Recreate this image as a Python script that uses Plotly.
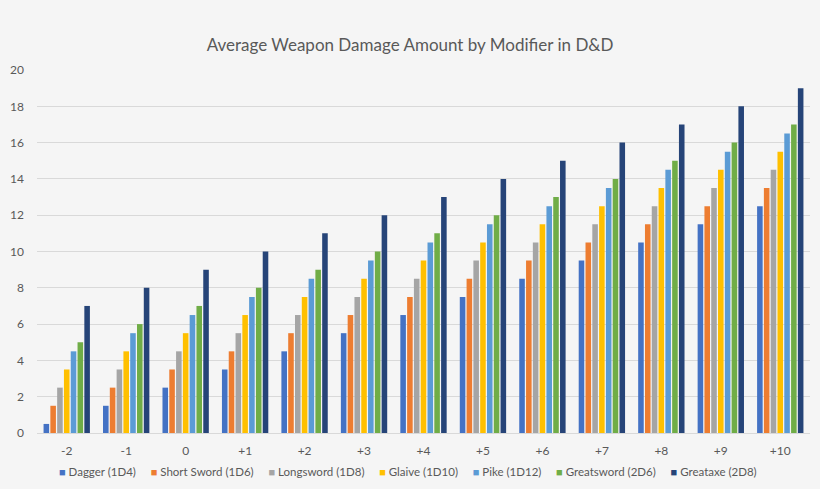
import plotly.graph_objects as go

# modifier categories on the x axis
modifiers = ['-2', '-1', '0', '+1', '+2', '+3', '+4', '+5', '+6', '+7', '+8', '+9', '+10']

# average damage per weapon
dagger = [0.5, 1.5, 2.5, 3.5, 4.5, 5.5, 6.5, 7.5, 8.5, 9.5, 10.5, 11.5, 12.5]
short_sword = [1.5, 2.5, 3.5, 4.5, 5.5, 6.5, 7.5, 8.5, 9.5, 10.5, 11.5, 12.5, 13.5]
longsword = [2.5, 3.5, 4.5, 5.5, 6.5, 7.5, 8.5, 9.5, 10.5, 11.5, 12.5, 13.5, 14.5]
glaive = [3.5, 4.5, 5.5, 6.5, 7.5, 8.5, 9.5, 10.5, 11.5, 12.5, 13.5, 14.5, 15.5]
pike = [4.5, 5.5, 6.5, 7.5, 8.5, 9.5, 10.5, 11.5, 12.5, 13.5, 14.5, 15.5, 16.5]
greatsword = [5, 6, 7, 8, 9, 10, 11, 12, 13, 14, 15, 16, 17]
greataxe = [7, 8, 9, 10, 11, 12, 13, 14, 15, 16, 17, 18, 19]

series = [
    ('Dagger (1D4)', dagger, '#4472C4'),
    ('Short Sword (1D6)', short_sword, '#ED7D31'),
    ('Longsword (1D8)', longsword, '#A5A5A5'),
    ('Glaive (1D10)', glaive, '#FFC000'),
    ('Pike (1D12)', pike, '#5B9BD5'),
    ('Greatsword (2D6)', greatsword, '#70AD47'),
    ('Greataxe (2D8)', greataxe, '#264478'),
]

fig = go.Figure()
for name, vals, col in series:
    fig.add_trace(go.Bar(x=modifiers, y=vals, name=name, marker_color=col,
                         marker_line_width=0))

# plotly's own legend is too roomy to fit in one row like excel's,
# so build a compact one as a single line of text
legend_bits = []
for name, vals, col in series:
    legend_bits.append('<span style="color:%s;font-size:11px">&#9632;</span>&nbsp;%s' % (col, name))
legend_text = '&nbsp;&nbsp;&nbsp;&nbsp;&nbsp;'.join(legend_bits)

fig.update_layout(
    width=820, height=489,
    paper_bgcolor='#F5F5F5', plot_bgcolor='#F5F5F5',
    font=dict(family='Lato, sans-serif', color='#595959', size=12),
    title=dict(text='Average Weapon Damage Amount by Modifier in D&D',
               x=0.5, xanchor='center', y=0.908, yanchor='middle',
               font=dict(size=17, color='#595959')),
    margin=dict(l=34, r=10, t=70, b=56),
    barmode='group', bargap=0.2, bargroupgap=0.18,
    showlegend=False,
    annotations=[dict(text=legend_text, xref='paper', yref='paper',
                      x=0.48, y=-0.105, xanchor='center', yanchor='middle',
                      showarrow=False, font=dict(size=11.5, color='#595959'))],
)
fig.update_yaxes(range=[0, 20], dtick=2, showgrid=True, gridcolor='#D9D9D9',
                 zeroline=False, showline=False, ticks='', ticklabelstandoff=12)
fig.update_xaxes(showgrid=False, showline=True, linecolor='#D9D9D9', ticks='',
                 ticklabelstandoff=7)

fig.write_html("out.html", config={'displayModeBar': False},
               post_script="document.body.style.margin='0';document.body.style.overflow='hidden';")
